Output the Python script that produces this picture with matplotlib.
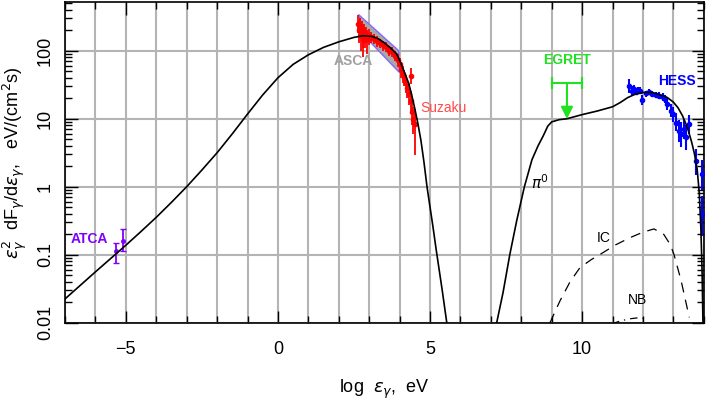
import matplotlib
matplotlib.use('Agg')
import matplotlib.pyplot as plt
import numpy as np
from matplotlib.ticker import MultipleLocator, LogLocator, NullFormatter

plt.rcParams['font.family'] = ['Liberation Sans', 'DejaVu Sans']
plt.rcParams['mathtext.fontset'] = 'dejavusans'

# synchrotron model curve (log eps, value)
sync_x = [-7, -6, -5, -4.5, -4, -3.5, -3, -2.5, -2, -1.5, -1, -0.5, 0, 0.5, 1, 1.5, 2,
          2.5, 2.8, 3.1, 3.3, 3.5, 3.7, 3.9, 4.0, 4.1, 4.2, 4.3, 4.4, 4.5, 4.6, 4.7,
          4.8, 4.9, 5.0, 5.1, 5.2, 5.3, 5.4, 5.55]
sync_y = [0.0224, 0.056, 0.138, 0.22, 0.355, 0.59, 1.0, 1.76, 3.16, 6.0, 11.7, 22.4,
          40, 63, 87, 112, 135, 157, 166, 162, 150, 130, 110, 90, 72, 56, 43, 33,
          22, 14, 8.5, 4.8, 2.3, 1.0, 0.5, 0.25, 0.12, 0.06, 0.03, 0.01]

# pi0 model curve
pi_x = [7.19, 7.4, 7.62, 7.85, 8.1, 8.35, 8.55, 8.72, 8.87, 9.0, 9.25, 9.5, 10.0,
        10.5, 11.0, 11.25, 11.5, 11.75, 12.0, 12.25, 12.5, 12.8, 13.0, 13.15, 13.3,
        13.46, 13.6, 13.69, 13.78, 13.85, 13.9, 13.94, 13.97]
pi_y = [0.01, 0.028, 0.1, 0.32, 1.0, 2.5, 4.0, 5.6, 7.8, 9.0, 9.7, 10.0, 11.5,
        13.0, 15.0, 17.3, 20.5, 23.0, 24.3, 24.5, 23.0, 20.5, 17.5, 14.5, 11.0,
        7.4, 4.5, 3.05, 1.8, 0.8, 0.25, 0.06, 0.01]

# inverse Compton
ic_x = [8.94, 9.27, 9.6, 9.93, 10.3, 10.6, 11.1, 11.59, 12.0, 12.36, 12.68, 12.9,
        13.02, 13.25, 13.52]
ic_y = [0.01, 0.021, 0.04, 0.065, 0.085, 0.102, 0.14, 0.18, 0.215, 0.24, 0.2,
        0.14, 0.10, 0.042, 0.012]

# non-thermal bremsstrahlung
nb_x = [10.98, 11.3, 11.6, 11.8, 12.0, 12.14]
nb_y = [0.0097, 0.0108, 0.0115, 0.0118, 0.0116, 0.011]

# ATCA radio points
atca_x = [-5.32, -5.08]
atca_y = [0.112, 0.16]
atca_lo = [0.076, 0.112]
atca_hi = [0.15, 0.24]

# ASCA bowtie (corners)
asca_x = [2.65, 3.97, 3.99, 2.87]
asca_y = [340, 100, 48, 160]

# ASCA / Suzaku X-ray points
xr_x = [2.62, 2.66, 2.70, 2.72, 2.75, 2.78, 2.80, 2.83, 2.86, 2.90, 2.94, 2.98,
        3.05, 3.15, 3.25, 3.35, 3.45, 3.55, 3.65, 3.75, 3.85, 3.95,
        4.0, 4.05, 4.1, 4.15, 4.2, 4.25, 4.3, 4.36, 4.36, 4.41, 4.45, 4.49]
xr_y = [250, 200, 230, 170, 210, 180, 150, 190, 160, 175, 150, 165,
        160, 150, 140, 130, 120, 115, 100, 95, 85, 72,
        63, 52, 46, 40, 33, 28, 23.3, 18.4, 42.8, 12.4, 10, 8.3]
xr_lo = [180, 130, 160, 100, 150, 110, 80, 130, 110, 130, 90, 120,
         130, 125, 115, 110, 100, 95, 85, 80, 70, 58,
         50, 40, 34, 30, 24, 20, 16, 12, 32, 8, 6, 2.9]
xr_hi = [330, 280, 300, 240, 270, 240, 220, 250, 210, 220, 200, 210,
         190, 175, 165, 150, 140, 135, 118, 112, 100, 88,
         78, 66, 60, 52, 44, 38, 32, 26, 56, 18, 15, 14]

# HESS points
hess_x = [11.53, 11.64, 11.70, 11.77, 11.83, 11.90, 11.98, 12.09, 12.20, 12.30,
          12.42, 12.53, 12.64, 12.73, 12.80, 12.91, 12.99, 13.08, 13.19, 13.25,
          13.36, 13.41, 13.52, 13.74, 13.93, 13.95]
hess_y = [30.6, 25.8, 27.4, 25, 26.5, 25.8, 18.8, 23.5, 24.4, 23.1,
          22.5, 21.8, 20.6, 19.5, 16.4, 13.1, 11.7, 8.8, 6.66, 5.95,
          7.05, 5.3, 8.3, 2.4, 1.54, 0.4]
hess_lo = [24, 22, 24, 22, 24, 23, 16, 21, 22, 21,
           20, 19.5, 18, 17, 13.5, 10.5, 9, 6.5, 4.5, 3.8,
           5, 3.5, 6, 1.5, 0.9, 0.19]
hess_hi = [38, 30, 31, 28, 29, 29, 22, 26, 27, 25.5,
           25, 24.5, 23.5, 22.5, 20, 16.5, 15, 12, 9.5, 9,
           10, 8, 11.5, 3.6, 2.5, 0.74]

# EGRET upper limit
egret_x = 9.5
egret_xerr = 0.5
egret_top = 33
egret_tip = 9.9

fig = plt.figure(figsize=(7.06, 4.01), dpi=100)
ax = fig.add_axes([0.092, 0.195, 0.905, 0.80])

ax.set_xlim(-7, 14)
ax.set_ylim(0.01, 520)
ax.set_yscale('log')

ax.xaxis.set_major_locator(MultipleLocator(5))
ax.xaxis.set_minor_locator(MultipleLocator(1))
ax.yaxis.set_major_locator(LogLocator(base=10, numticks=10))
ax.yaxis.set_minor_locator(LogLocator(base=10, subs=np.arange(2, 10), numticks=20))
ax.yaxis.set_minor_formatter(NullFormatter())
ax.set_yticks([0.01, 0.1, 1, 10, 100], labels=['0.01', '0.1', '1', '10', '100'])
ax.set_xticks([-5, 0, 5, 10], labels=['\u22125', '0', '5', '10'])

ax.grid(True, which='both', axis='x', color='#b4b4b4', lw=1.5)
ax.grid(True, which='major', axis='y', color='#b4b4b4', lw=1.5)
ax.set_axisbelow(True)

ax.tick_params(which='both', direction='in', top=True, right=True, width=1.0, colors='black')
ax.tick_params(which='major', length=9, labelsize=13, pad=8)
ax.tick_params(axis='x', which='major', pad=13)
ax.tick_params(which='minor', length=5)
for lab in ax.get_yticklabels():
    lab.set_rotation(90)
    lab.set_va('center')
for s in ax.spines.values():
    s.set_linewidth(1.2)

# ASCA bowtie
ax.fill(asca_x, asca_y, facecolor='#a8a8a8', edgecolor='#8866ff', lw=1.0, zorder=3)

# X-ray points
xr_y_a = np.array(xr_y)
ax.errorbar(xr_x, xr_y, yerr=[xr_y_a - np.array(xr_lo), np.array(xr_hi) - xr_y_a],
            fmt='o', ms=3, color='red', ecolor='red', elinewidth=1.3, capsize=0, zorder=4)

# HESS points
hess_y_a = np.array(hess_y)
ax.errorbar(hess_x, hess_y, yerr=[hess_y_a - np.array(hess_lo), np.array(hess_hi) - hess_y_a],
            fmt='o', ms=3, color='blue', ecolor='blue', elinewidth=1.5, capsize=0, zorder=4)

# ATCA
atca_y_a = np.array(atca_y)
ax.errorbar(atca_x, atca_y, yerr=[atca_y_a - np.array(atca_lo), np.array(atca_hi) - atca_y_a],
            fmt='o', ms=2.5, color='#8000ff', elinewidth=1.3, capsize=2.5, zorder=4)

# model curves
ax.plot(sync_x, sync_y, color='black', lw=1.2, zorder=5)
ax.plot(pi_x, pi_y, color='black', lw=1.2, zorder=5)
ax.plot(ic_x, ic_y, color='black', lw=0.9, ls=(0, (8, 6)), zorder=5)
ax.plot(nb_x, nb_y, color='black', lw=0.9, ls=(0, (6, 4, 1, 4)), zorder=5)

# EGRET upper limit
ax.errorbar([egret_x], [egret_top], xerr=[egret_xerr], fmt='none', ecolor='#22e022',
            elinewidth=1.5, capsize=4, capthick=1.5, zorder=6)
ax.annotate('', xy=(egret_x, egret_tip), xytext=(egret_x, egret_top),
            arrowprops=dict(arrowstyle='-|>', color='#22e022', lw=1.5,
                            mutation_scale=18, shrinkA=0, shrinkB=0), zorder=6)

# labels
ax.text(-6.2, 0.17, 'ATCA', color='#8000ff', fontsize=10, fontweight='bold', ha='center', va='center')
ax.text(2.48, 71, 'ASCA', color='#a0a0a0', fontsize=10, fontweight='bold', ha='center', va='center')
ax.text(4.67, 14.5, 'Suzaku', color='#ff4a4a', fontsize=10, ha='left', va='center')
ax.text(9.5, 73, 'EGRET', color='#22e022', fontsize=10, fontweight='bold', ha='center', va='center')
ax.text(13.1, 36, 'HESS', color='#0000ff', fontsize=10, fontweight='bold', ha='center', va='center')
ax.text(8.6, 1.15, r'$\pi^0$', color='black', fontsize=11, ha='center', va='center')
ax.text(10.7, 0.178, 'IC', color='black', fontsize=10, ha='center', va='center')
ax.text(11.82, 0.0217, 'NB', color='black', fontsize=10, ha='center', va='center')

ax.set_xlabel(r'log  $\epsilon_\gamma$,  eV', fontsize=13, labelpad=14)
ax.set_ylabel(r'$\epsilon^2_\gamma$  dF$_\gamma$/d$\epsilon_\gamma$,   eV/(cm$^2$s)', fontsize=13, labelpad=6)

fig.savefig('out.png', dpi=100)
